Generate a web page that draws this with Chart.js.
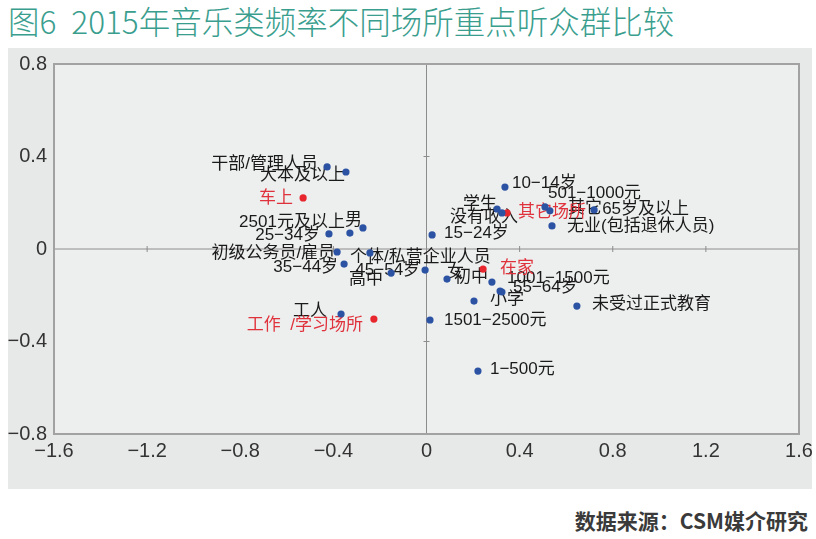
<!DOCTYPE html>
<html>
<head>
<meta charset="utf-8">
<script src="https://cdn.jsdelivr.net/npm/chart.js@4.4.1/dist/chart.umd.min.js"></script>
<style>
  html, body { margin: 0; padding: 0; background: #fff; }
  body { width: 816px; height: 539px; position: relative; overflow: hidden; font-family: "Noto Sans CJK SC", sans-serif; }
  #title { position: absolute; left: 8px; top: 2px; font-size: 31.5px; line-height: 36px; font-weight: 300; word-spacing: 8px; color: #3a9e8e; white-space: nowrap; }
  #panel { position: absolute; left: 8px; top: 48px; width: 804px; height: 441px; background: #e7e9e8; }
  #source { position: absolute; right: 8px; top: 507px; font-size: 21px; line-height: 26px; font-weight: 700; color: #3a3a3a; white-space: nowrap; }
</style>
</head>
<body>
<div id="title">图6 2015年音乐类频率不同场所重点听众群比较</div>
<div id="panel"><canvas id="chart" width="804" height="441"></canvas></div>
<div id="source">数据来源：CSM媒介研究</div>
<script>
// audience groups (blue)
const groupNames = [
    '干部/管理人员', '大本及以上', '2501元及以上', '男', '25−34岁',
    '初级公务员/雇员', '35−44岁', '个体/私营企业人员', '45−54岁', '高中',
    '女', '工人', '1501−2500元', '15−24岁', '10−14岁',
    '501−1000元', '其它', '65岁及以上', '无业(包括退休人员)', '学生',
    '没有收入', '初中', '1001−1500元', '55−64岁', '小学',
    '未受过正式教育', '1−500元'
];
const groupX = [
    -0.427, -0.346, -0.329, -0.273, -0.419,
    -0.384, -0.354, -0.243, -0.006, -0.152,
    0.088, -0.367, 0.015, 0.024, 0.337,
    0.509, 0.530, 0.720, 0.539, 0.303,
    0.324, 0.281, 0.316, 0.324, 0.204,
    0.646, 0.221
];
const groupY = [
    0.355, 0.333, 0.069, 0.091, 0.065,
    -0.013, -0.065, -0.017, -0.091, -0.104,
    -0.130, -0.281, -0.307, 0.061, 0.268,
    0.182, 0.165, 0.169, 0.100, 0.173,
    0.156, -0.143, -0.182, -0.186, -0.225,
    -0.247, -0.528
];

// listening places (red)
const placeNames = ['车上', '工作  /学习场所', '其它场所', '在家'];
const placeX = [-0.530, -0.226, 0.346, 0.243];
const placeY = [0.221, -0.303, 0.156, -0.087];

const xTicks = [-1.6, -1.2, -0.8, -0.4, 0, 0.4, 0.8, 1.2, 1.6];
const xTickLabels = ['−1.6', '−1.2', '−0.8', '−0.4', '0', '0.4', '0.8', '1.2', '1.6'];
const yTicks = [-0.8, -0.4, 0, 0.4, 0.8];
const yTickLabels = ['−0.8', '−0.4', '0', '0.4', '0.8'];

// where each label sits next to its dot: [align, dx, dy]
const labelPlace = {
    '干部/管理人员': ['right', -9, -3],
    '大本及以上': ['right', -1, 3],
    '2501元及以上': ['right', -5, -11],
    '男': ['right', -1, -8],
    '25−34岁': ['right', -9, 1],
    '初级公务员/雇员': ['right', -2, 1],
    '35−44岁': ['right', -6, 3],
    '个体/私营企业人员': ['left', -20, 4],
    '45−54岁': ['right', -5, 0],
    '高中': ['right', -8, 6],
    '女': ['left', 0, -7],
    '工人': ['right', -14, -3],
    '1501−2500元': ['left', 14, 0],
    '15−24岁': ['left', 12, -2],
    '10−14岁': ['left', 7, -4],
    '501−1000元': ['left', 3, -14],
    '其它': ['left', 18, -3],
    '65岁及以上': ['left', 8, -1],
    '无业(包括退休人员)': ['left', 15, 0],
    '学生': ['right', 0, -5],
    '没有收入': ['right', 16, 4],
    '初中': ['right', -4, -5],
    '1001−1500元': ['left', 7, -13],
    '55−64岁': ['left', 11, -5],
    '小学': ['left', 16, -2],
    '未受过正式教育': ['left', 15, -2],
    '1−500元': ['left', 12, -2],
    '车上': ['right', -10, 0],
    '工作  /学习场所': ['right', -11, 6],
    '其它场所': ['left', 11, -1],
    '在家': ['left', 17, -1]
};

const toPoints = (names, xs, ys) => names.map((n, i) => ({ x: xs[i], y: ys[i], name: n }));

const plotDecor = {
    id: 'plotDecor',
    beforeDraw(chart) {
        const { ctx, chartArea: a } = chart;
        ctx.save();
        ctx.fillStyle = '#edefee';
        ctx.fillRect(a.left, a.top, a.right - a.left, a.bottom - a.top);
        ctx.restore();
    },
    beforeDatasetsDraw(chart) {
        const { ctx, chartArea: a, scales: { x, y } } = chart;
        const x0 = x.getPixelForValue(0);
        const y0 = y.getPixelForValue(0);
        ctx.save();
        ctx.strokeStyle = '#8c8c8c';
        ctx.lineWidth = 1;
        ctx.beginPath();
        ctx.moveTo(x0, a.top); ctx.lineTo(x0, a.bottom);
        ctx.moveTo(a.left, y0); ctx.lineTo(a.right, y0);
        xTicks.forEach(v => {
            if (v === 0 || v === xTicks[0] || v === xTicks[xTicks.length - 1]) return;
            const px = x.getPixelForValue(v);
            ctx.moveTo(px, y0 - 3); ctx.lineTo(px, y0 + 3);
        });
        yTicks.forEach(v => {
            if (v === 0 || v === yTicks[0] || v === yTicks[yTicks.length - 1]) return;
            const py = y.getPixelForValue(v);
            ctx.moveTo(x0 - 3, py); ctx.lineTo(x0 + 3, py);
        });
        ctx.stroke();
        ctx.strokeStyle = '#a2a2a2';
        ctx.lineWidth = 2;
        ctx.strokeRect(a.left, a.top, a.right - a.left, a.bottom - a.top);

        // point labels, under the dots
        ctx.font = '17px "Liberation Sans", "Noto Sans CJK SC", sans-serif';
        ctx.textBaseline = 'middle';
        chart.data.datasets.forEach((ds, d) => {
            const meta = chart.getDatasetMeta(d);
            ctx.fillStyle = ds.labelColor;
            ds.data.forEach((p, i) => {
                const el = meta.data[i];
                const place = labelPlace[p.name] || ['left', 8, 0];
                ctx.textAlign = place[0];
                ctx.fillText(p.name, el.x + place[1], el.y + place[2]);
            });
        });
        ctx.restore();
    }
};

const tickFont = { family: '"Liberation Sans Narrow", "Liberation Sans", sans-serif', size: 20 };

new Chart(document.getElementById('chart'), {
    type: 'scatter',
    data: {
        datasets: [{
            label: '听众群',
            data: toPoints(groupNames, groupX, groupY),
            backgroundColor: '#2b52a3',
            borderWidth: 0,
            pointRadius: 3.6,
            labelColor: '#1a1a1a'
        }, {
            label: '场所',
            data: toPoints(placeNames, placeX, placeY),
            backgroundColor: '#e8262e',
            borderWidth: 0,
            pointRadius: 3.6,
            labelColor: '#e0323c'
        }]
    },
    options: {
        responsive: false,
        animation: false,
        layout: { padding: { left: 0, top: 16, right: 13, bottom: 0 } },
        plugins: {
            legend: { display: false },
            tooltip: { enabled: false }
        },
        scales: {
            x: {
                type: 'linear',
                min: -1.6,
                max: 1.6,
                grid: { display: false, drawTicks: false },
                border: { display: false },
                afterBuildTicks: s => { s.ticks = xTicks.map(v => ({ value: v })); },
                afterFit: s => { s.height = 55; s.paddingLeft = 0; s.paddingRight = 0; },
                ticks: {
                    padding: 5,
                    color: '#333',
                    maxRotation: 0,
                    autoSkip: false,
                    font: tickFont,
                    callback: (v, i) => xTickLabels[i]
                }
            },
            y: {
                type: 'linear',
                min: -0.8,
                max: 0.8,
                grid: { display: false, drawTicks: false },
                border: { display: false },
                afterBuildTicks: s => { s.ticks = yTicks.map(v => ({ value: v })); },
                afterFit: s => { s.width = 46; s.paddingTop = 0; s.paddingBottom = 0; },
                ticks: {
                    padding: 7,
                    color: '#333',
                    autoSkip: false,
                    font: tickFont,
                    callback: (v, i) => yTickLabels[i]
                }
            }
        }
    },
    plugins: [plotDecor]
});
</script>
</body>
</html>
